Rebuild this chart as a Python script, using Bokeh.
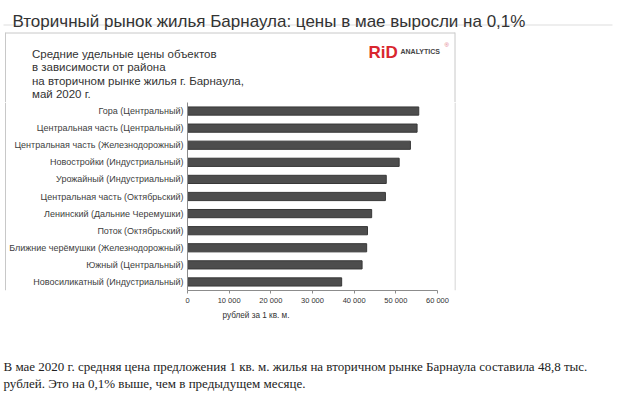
from bokeh.plotting import figure
from bokeh.layouts import column, row
from bokeh.models import FactorRange, Range1d, FixedTicker, Label, Title
from bokeh.embed import file_html
from bokeh.resources import INLINE

page_title = "Вторичный рынок жилья Барнаула: цены в мае выросли на 0,1%"
chart_title_lines = [
    "Средние удельные цены объектов",
    "в зависимости от района",
    "на вторичном рынке жилья г. Барнаула,",
    "май 2020 г.",
]
categories = [
    "Гора (Центральный)",
    "Центральная часть (Центральный)",
    "Центральная часть (Железнодорожный)",
    "Новостройки (Индустриальный)",
    "Урожайный (Индустриальный)",
    "Центральная часть (Октябрьский)",
    "Ленинский (Дальние Черемушки)",
    "Поток (Октябрьский)",
    "Ближние черёмушки (Железнодорожный)",
    "Южный (Центральный)",
    "Новосиликатный (Индустриальный)",
]
prices = [55500, 55100, 53500, 50800, 47700, 47500, 44200, 43200, 43000, 41900, 37000]
x_ticks = [0, 10000, 20000, 30000, 40000, 50000, 60000]
x_tick_labels = ["0", "10 000", "20 000", "30 000", "40 000", "50 000", "60 000"]
x_axis_title = "рублей за 1 кв. м."
paragraph_lines = [
    "В мае 2020 г. средняя цена предложения 1 кв. м. жилья на вторичном рынке Барнаула составила 48,8 тыс.",
    "рублей. Это на 0,1% выше, чем в предыдущем месяце.",
]

W = 618
SANS = "Liberation Sans"
SERIF = "Liberation Serif"
BORDER = "#c8c8c8"


def panel(width, height):
    f = figure(width=width, height=height, x_range=Range1d(0, width), y_range=Range1d(height, 0),
               output_backend="svg", toolbar_location=None,
               x_axis_location=None, y_axis_location=None,
               min_border=0, min_border_left=0, min_border_right=0,
               min_border_top=0, min_border_bottom=0)
    f.outline_line_color = None
    f.grid.visible = False
    f.border_fill_color = "white"
    f.background_fill_color = "white"
    return f


def lab(f, x, y, text, size, font=SANS, color="#333333", style="normal"):
    f.add_layout(Label(x=x, y=y, text=text, text_font=font, text_font_size=size,
                       text_color=color, text_font_style=style, text_baseline="alphabetic",
                       text_align="left"))


# ---- header: page title + top of chart image ----
TOP_H = 102
head = panel(W, TOP_H)
lab(head, 12, 20.5, page_title, "17px")
head.segment(x0=[3, 5, 5, 454.5], y0=[24.5, 32.5, 32, 32], x1=[612, 454.5, 5, 454.5], y1=[24.5, 32.5, TOP_H, TOP_H],
             line_color=["#dddddd", BORDER, BORDER, BORDER], line_width=1)
for i, line in enumerate(chart_title_lines):
    lab(head, 31.5, 53.5 + i * 13.3, line, "11.5px")
lab(head, 368, 52, "RiD", "17px", color="#d9262e", style="bold")
lab(head, 400, 51, "ANALYTICS", "7px", color="#444444", style="bold")
lab(head, 444, 44, "®", "6px", color="#e07080")

# ---- chart body ----
CH_H = 220
left_strip = panel(6, CH_H)
left_strip.segment(x0=[5], y0=[0], x1=[5], y1=[CH_H], line_color=BORDER, line_width=1)
right_strip = panel(W - 454, CH_H)
right_strip.segment(x0=[0.5], y0=[0], x1=[0.5], y1=[CH_H], line_color=BORDER, line_width=1)

p = figure(
    width=448, height=CH_H,
    x_range=Range1d(0, 60000),
    y_range=FactorRange(factors=list(reversed(categories)), range_padding=0),
    output_backend="svg", toolbar_location=None,
    min_border_left=179, min_border_right=17,
    min_border_top=0, min_border_bottom=32,
)
p.outline_line_color = None
p.xgrid.grid_line_color = None
p.ygrid.grid_line_color = None

p.hbar(y=categories, left=0, right=prices, height=0.48,
       fill_color="#4d4d4d", line_color="#383838", line_width=1)

xa = p.xaxis[0]
xa.ticker = FixedTicker(ticks=x_ticks)
xa.major_label_overrides = {t: l for t, l in zip(x_ticks, x_tick_labels)}
xa.axis_line_color = "#8c8c8c"
xa.major_tick_line_color = "#8c8c8c"
xa.major_tick_out = 3
xa.major_tick_in = 0
xa.minor_tick_line_color = None
xa.minor_tick_out = 0
xa.minor_tick_in = 0
xa.major_label_text_font = SANS
xa.major_label_text_font_size = "7.5px"
xa.major_label_text_color = "#333333"
xa.major_label_standoff = 2

ya = p.yaxis[0]
ya.axis_line_color = "#8c8c8c"
ya.major_tick_line_color = None
ya.major_tick_out = 0
ya.major_tick_in = 0
ya.minor_tick_line_color = None
ya.minor_tick_out = 0
ya.minor_tick_in = 0
ya.major_label_text_font = SANS
ya.major_label_text_font_size = "9px"
ya.major_label_text_color = "#404040"
ya.major_label_standoff = 4

p.add_layout(Title(text=x_axis_title, align="left", offset=35, standoff=2,
                   text_font=SANS, text_font_size="8.2px", text_font_style="normal",
                   text_color="#333333"), "below")

# ---- footer paragraph ----
FOOT_H = 405 - TOP_H - CH_H
foot = panel(W, FOOT_H)
for i, line in enumerate(paragraph_lines):
    lab(foot, 3, 44 + i * 17, line, "13px", font=SERIF, color="#222222")

layout = column(head, row(left_strip, p, right_strip), foot)
open("out.html", "w").write(file_html(layout, INLINE))
